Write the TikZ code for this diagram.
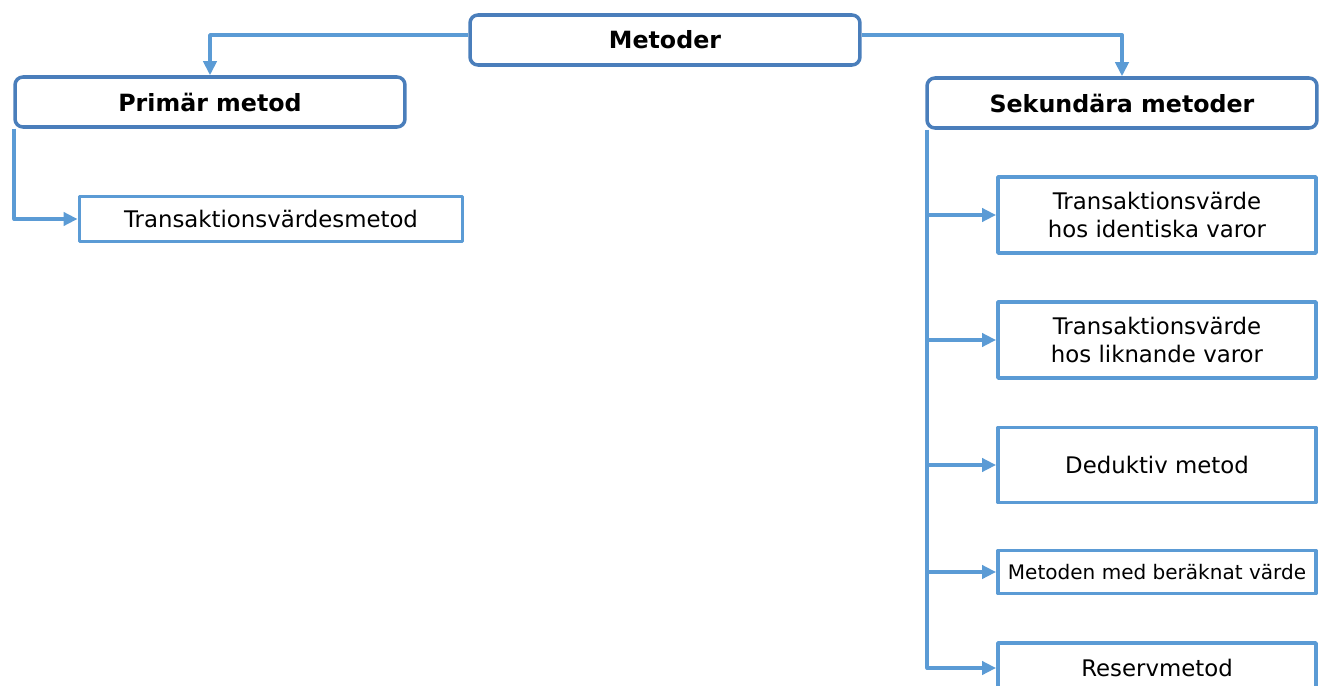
\documentclass[tikz,border=0pt]{standalone}
\usepackage{fontspec}
\setmainfont{DejaVu Sans}
\usetikzlibrary{arrows.meta}
\definecolor{blaa}{HTML}{5B9BD5}
\definecolor{moerkblaa}{HTML}{4A7EBB}
\tikzset{
	huvud/.style={draw=moerkblaa, line width=2pt, rounded corners=4.5pt, fill=white, inner sep=0pt,
		minimum width=7.8cm, minimum height=1cm, font=\fontsize{13.5}{16}\selectfont\bfseries},
	ruta/.style={draw=blaa, line width=2.2pt, fill=white, inner sep=0pt, align=center,
		minimum width=6.36cm, font=\fontsize{13}{15.5}\selectfont},
	pil/.style={draw=blaa, line width=2.2pt, ->}
}
\begin{document}
\begin{tikzpicture}[x=0.02cm, y=-0.02cm, line join=round, >={Triangle[length=8pt,width=7.5pt]}]
	\useasboundingbox (0,0) rectangle (1326,686);
	\node[huvud] (Metoder) at (665,40) {Metoder};
	\node[huvud] (Primar) at (210,102) {Primär metod};
	\node[huvud] (Sek) at (1122,103) {Sekundära metoder};
	\node[ruta, minimum width=7.66cm, minimum height=0.9cm] (Trans) at (271,219) {Transaktionsvärdesmetod};
	\node[ruta, minimum height=1.52cm] (Ident) at (1157,215) {Transaktionsvärde\\hos identiska varor};
	\node[ruta, minimum height=1.52cm] (Likn) at (1157,340) {Transaktionsvärde\\hos liknande varor};
	\node[ruta, minimum height=1.5cm] (Dedu) at (1157,465) {Deduktiv metod};
	\node[ruta, minimum height=0.86cm, font=\fontsize{11.4}{13}\selectfont] (Berak) at (1157,572) {Metoden med beräknat värde};
	\node[ruta, minimum height=1.0cm] (Res) at (1157,668) {Reservmetod};
	% grenar fran Metoder
	\draw[pil] ([yshift=0.1cm]Metoder.west) -| (Primar.north);
	\draw[pil] ([yshift=0.1cm]Metoder.east) -| (Sek.north);
	\draw[pil] ([xshift=0.02cm]Primar.south west) |- (Trans.west);
	% sekundara metoder
	\draw[pil] ([xshift=0.04cm]Sek.south west) |- (Res.west);
	\foreach \r in {Ident,Likn,Dedu,Berak}
		\draw[pil] ([xshift=0.04cm]Sek.south west |- \r.west) -- (\r.west);
\end{tikzpicture}
\end{document}
